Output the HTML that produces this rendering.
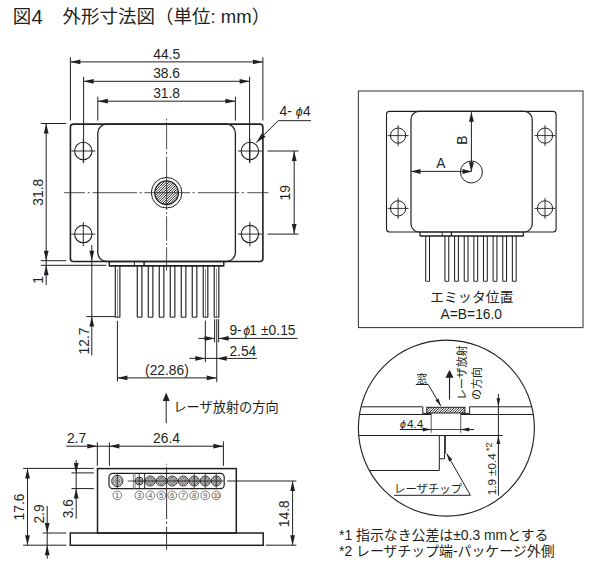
<!DOCTYPE html>
<html lang="ja"><head><meta charset="utf-8"><title>図4 外形寸法図</title>
<style>
html,body{margin:0;padding:0;background:#fff;}
body{width:603px;height:569px;overflow:hidden;}
svg{display:block;font-family:'Liberation Sans', 'Noto Sans CJK JP', sans-serif;}
</style></head>
<body>
<svg width="603" height="569" viewBox="0 0 603 569" style="font-family:'Liberation Sans', 'Noto Sans CJK JP', sans-serif">
<rect x="0" y="0" width="603" height="569" fill="#ffffff"/>
<text x="12.80" y="23.40" font-size="18.5" text-anchor="start" fill="#231f20" >図</text>
<text x="31.40" y="24.00" font-size="20.3" text-anchor="start" fill="#231f20" >4</text>
<text x="62.60" y="23.40" font-size="18.5" text-anchor="start" fill="#231f20" >外形寸法図（単位: mm）</text>
<rect x="70.40" y="124.10" width="192.50" height="137.40" rx="3" ry="3" fill="none" stroke="#231f20" stroke-width="1.6" />
<rect x="97.80" y="124.10" width="137.60" height="137.40" rx="9" ry="9" fill="none" stroke="#231f20" stroke-width="1.3" />
<circle cx="83.30" cy="151.00" r="8.70" fill="none" stroke="#231f20" stroke-width="1.1" />
<line x1="71.30" y1="151.00" x2="95.30" y2="151.00" stroke="#231f20" stroke-width="0.95" />
<line x1="83.30" y1="139.00" x2="83.30" y2="163.00" stroke="#231f20" stroke-width="0.95" />
<circle cx="83.30" cy="234.10" r="8.70" fill="none" stroke="#231f20" stroke-width="1.1" />
<line x1="71.30" y1="234.10" x2="95.30" y2="234.10" stroke="#231f20" stroke-width="0.95" />
<line x1="83.30" y1="222.10" x2="83.30" y2="246.10" stroke="#231f20" stroke-width="0.95" />
<circle cx="249.90" cy="151.00" r="8.70" fill="none" stroke="#231f20" stroke-width="1.1" />
<line x1="237.90" y1="151.00" x2="261.90" y2="151.00" stroke="#231f20" stroke-width="0.95" />
<line x1="249.90" y1="139.00" x2="249.90" y2="163.00" stroke="#231f20" stroke-width="0.95" />
<circle cx="249.90" cy="234.10" r="8.70" fill="none" stroke="#231f20" stroke-width="1.1" />
<line x1="237.90" y1="234.10" x2="261.90" y2="234.10" stroke="#231f20" stroke-width="0.95" />
<line x1="249.90" y1="222.10" x2="249.90" y2="246.10" stroke="#231f20" stroke-width="0.95" />
<circle cx="166.60" cy="192.70" r="15.30" fill="none" stroke="#231f20" stroke-width="1.0" />
<clipPath id="hc1"><circle cx="166.6" cy="192.7" r="11.8"/></clipPath><g clip-path="url(#hc1)">
<line x1="153.80" y1="182.20" x2="179.40" y2="156.60" stroke="#231f20" stroke-width="0.95" />
<line x1="153.80" y1="184.70" x2="179.40" y2="159.10" stroke="#231f20" stroke-width="0.95" />
<line x1="153.80" y1="187.20" x2="179.40" y2="161.60" stroke="#231f20" stroke-width="0.95" />
<line x1="153.80" y1="189.70" x2="179.40" y2="164.10" stroke="#231f20" stroke-width="0.95" />
<line x1="153.80" y1="192.20" x2="179.40" y2="166.60" stroke="#231f20" stroke-width="0.95" />
<line x1="153.80" y1="194.70" x2="179.40" y2="169.10" stroke="#231f20" stroke-width="0.95" />
<line x1="153.80" y1="197.20" x2="179.40" y2="171.60" stroke="#231f20" stroke-width="0.95" />
<line x1="153.80" y1="199.70" x2="179.40" y2="174.10" stroke="#231f20" stroke-width="0.95" />
<line x1="153.80" y1="202.20" x2="179.40" y2="176.60" stroke="#231f20" stroke-width="0.95" />
<line x1="153.80" y1="204.70" x2="179.40" y2="179.10" stroke="#231f20" stroke-width="0.95" />
<line x1="153.80" y1="207.20" x2="179.40" y2="181.60" stroke="#231f20" stroke-width="0.95" />
<line x1="153.80" y1="209.70" x2="179.40" y2="184.10" stroke="#231f20" stroke-width="0.95" />
<line x1="153.80" y1="212.20" x2="179.40" y2="186.60" stroke="#231f20" stroke-width="0.95" />
<line x1="153.80" y1="214.70" x2="179.40" y2="189.10" stroke="#231f20" stroke-width="0.95" />
<line x1="153.80" y1="217.20" x2="179.40" y2="191.60" stroke="#231f20" stroke-width="0.95" />
<line x1="153.80" y1="219.70" x2="179.40" y2="194.10" stroke="#231f20" stroke-width="0.95" />
<line x1="153.80" y1="222.20" x2="179.40" y2="196.60" stroke="#231f20" stroke-width="0.95" />
<line x1="153.80" y1="224.70" x2="179.40" y2="199.10" stroke="#231f20" stroke-width="0.95" />
<line x1="153.80" y1="227.20" x2="179.40" y2="201.60" stroke="#231f20" stroke-width="0.95" />
</g>
<circle cx="166.60" cy="192.70" r="11.80" fill="none" stroke="#231f20" stroke-width="1.3" />
<line x1="64.10" y1="192.70" x2="268.40" y2="192.70" stroke="#231f20" stroke-width="0.8" stroke-dasharray="20.8 2.9 1.9 2.9 44.5 2.5 2.2 2.6 45.6 2.5 2.2 3.3 41.2 2.6 2.2 3.3 21.1"/>
<line x1="166.60" y1="118.70" x2="166.60" y2="270.60" stroke="#231f20" stroke-width="0.8" stroke-dasharray="1.6 2.0 27.2 2.4 2.1 2.6 53.4 2.1 1.9 2.3 24.5 2.1 1.9 2.4 23.4"/>
<line x1="70.40" y1="57.40" x2="70.40" y2="120.50" stroke="#231f20" stroke-width="1.0" />
<line x1="262.90" y1="57.40" x2="262.90" y2="120.50" stroke="#231f20" stroke-width="1.0" />
<line x1="70.40" y1="61.90" x2="262.90" y2="61.90" stroke="#231f20" stroke-width="1.0" />
<polygon points="70.40,61.90 80.40,59.50 80.40,64.30" fill="#231f20"/>
<polygon points="262.90,61.90 252.90,64.30 252.90,59.50" fill="#231f20"/>
<text x="166.65" y="58.90" font-size="13.8" text-anchor="middle" fill="#231f20" >44.5</text>
<line x1="83.60" y1="76.80" x2="83.60" y2="163.00" stroke="#231f20" stroke-width="1.0" />
<line x1="249.60" y1="76.80" x2="249.60" y2="163.00" stroke="#231f20" stroke-width="1.0" />
<line x1="83.60" y1="81.30" x2="249.60" y2="81.30" stroke="#231f20" stroke-width="1.0" />
<polygon points="83.60,81.30 93.60,78.90 93.60,83.70" fill="#231f20"/>
<polygon points="249.60,81.30 239.60,83.70 239.60,78.90" fill="#231f20"/>
<text x="166.60" y="78.40" font-size="13.8" text-anchor="middle" fill="#231f20" >38.6</text>
<line x1="97.80" y1="96.70" x2="97.80" y2="120.50" stroke="#231f20" stroke-width="1.0" />
<line x1="235.40" y1="96.70" x2="235.40" y2="120.50" stroke="#231f20" stroke-width="1.0" />
<line x1="97.80" y1="101.20" x2="235.40" y2="101.20" stroke="#231f20" stroke-width="1.0" />
<polygon points="97.80,101.20 107.80,98.80 107.80,103.60" fill="#231f20"/>
<polygon points="235.40,101.20 225.40,103.60 225.40,98.80" fill="#231f20"/>
<text x="166.60" y="98.30" font-size="13.8" text-anchor="middle" fill="#231f20" >31.8</text>
<text x="279.60" y="116.30" font-size="13.8" text-anchor="start" fill="#231f20" >4- <tspan font-size='12.5' font-style='italic'>ϕ</tspan><tspan dx='0.4'>4</tspan></text>
<polyline points="311.00,120.70 278.20,120.70 256.30,142.50" fill="none" stroke="#231f20" stroke-width="1.0" />
<polygon points="256.30,142.50 261.91,133.25 265.58,136.94" fill="#231f20"/>
<line x1="267.50" y1="151.00" x2="298.50" y2="151.00" stroke="#231f20" stroke-width="1.0" />
<line x1="267.50" y1="234.10" x2="298.50" y2="234.10" stroke="#231f20" stroke-width="1.0" />
<line x1="294.20" y1="151.00" x2="294.20" y2="234.10" stroke="#231f20" stroke-width="1.0" />
<polygon points="294.20,151.00 296.60,161.00 291.80,161.00" fill="#231f20"/>
<polygon points="294.20,234.10 291.80,224.10 296.60,224.10" fill="#231f20"/>
<text x="290.40" y="192.70" font-size="13.8" text-anchor="middle" fill="#231f20" transform="rotate(-90 290.40 192.70)" >19</text>
<line x1="40.80" y1="123.50" x2="66.20" y2="123.50" stroke="#231f20" stroke-width="1.0" />
<line x1="40.80" y1="260.70" x2="66.20" y2="260.70" stroke="#231f20" stroke-width="1.0" />
<line x1="40.80" y1="265.30" x2="106.30" y2="265.30" stroke="#231f20" stroke-width="1.0" />
<line x1="46.20" y1="123.50" x2="46.20" y2="285.00" stroke="#231f20" stroke-width="1.0" />
<polygon points="46.20,123.50 48.60,133.50 43.80,133.50" fill="#231f20"/>
<polygon points="46.20,260.70 43.80,250.70 48.60,250.70" fill="#231f20"/>
<polygon points="46.20,265.30 48.60,275.30 43.80,275.30" fill="#231f20"/>
<text x="42.60" y="192.20" font-size="13.8" text-anchor="middle" fill="#231f20" transform="rotate(-90 42.60 192.20)" >31.8</text>
<text x="42.60" y="280.00" font-size="13.8" text-anchor="middle" fill="#231f20" transform="rotate(-90 42.60 280.00)" >1</text>
<line x1="91.80" y1="245.00" x2="91.80" y2="355.50" stroke="#231f20" stroke-width="1.0" />
<polygon points="91.80,260.70 89.40,250.70 94.20,250.70" fill="#231f20"/>
<polygon points="91.80,316.60 94.20,326.60 89.40,326.60" fill="#231f20"/>
<line x1="86.30" y1="316.60" x2="115.00" y2="316.60" stroke="#231f20" stroke-width="1.0" />
<text x="89.20" y="341.00" font-size="13.8" text-anchor="middle" fill="#231f20" transform="rotate(-90 89.20 341.00)" >12.7</text>
<line x1="109.30" y1="261.50" x2="109.30" y2="266.40" stroke="#231f20" stroke-width="1.4" />
<line x1="223.80" y1="261.50" x2="223.80" y2="266.40" stroke="#231f20" stroke-width="1.4" />
<line x1="109.30" y1="265.80" x2="223.80" y2="265.80" stroke="#231f20" stroke-width="1.7" />
<line x1="134.40" y1="261.50" x2="134.40" y2="265.80" stroke="#231f20" stroke-width="1.0" />
<line x1="144.10" y1="261.50" x2="144.10" y2="265.80" stroke="#231f20" stroke-width="1.5" />
<line x1="115.30" y1="265.80" x2="115.30" y2="317.20" stroke="#231f20" stroke-width="1.15" />
<line x1="119.90" y1="265.80" x2="119.90" y2="317.20" stroke="#231f20" stroke-width="1.15" />
<line x1="115.30" y1="317.20" x2="119.90" y2="317.20" stroke="#231f20" stroke-width="1.0" />
<line x1="117.60" y1="268.80" x2="117.60" y2="317.20" stroke="#5a5553" stroke-width="0.7" />
<line x1="137.29" y1="265.80" x2="137.29" y2="317.20" stroke="#231f20" stroke-width="1.15" />
<line x1="141.89" y1="265.80" x2="141.89" y2="317.20" stroke="#231f20" stroke-width="1.15" />
<line x1="137.29" y1="317.20" x2="141.89" y2="317.20" stroke="#231f20" stroke-width="1.0" />
<line x1="148.28" y1="265.80" x2="148.28" y2="317.20" stroke="#231f20" stroke-width="1.15" />
<line x1="152.88" y1="265.80" x2="152.88" y2="317.20" stroke="#231f20" stroke-width="1.15" />
<line x1="148.28" y1="317.20" x2="152.88" y2="317.20" stroke="#231f20" stroke-width="1.0" />
<line x1="159.27" y1="265.80" x2="159.27" y2="317.20" stroke="#231f20" stroke-width="1.15" />
<line x1="163.87" y1="265.80" x2="163.87" y2="317.20" stroke="#231f20" stroke-width="1.15" />
<line x1="159.27" y1="317.20" x2="163.87" y2="317.20" stroke="#231f20" stroke-width="1.0" />
<line x1="170.27" y1="265.80" x2="170.27" y2="317.20" stroke="#231f20" stroke-width="1.15" />
<line x1="174.87" y1="265.80" x2="174.87" y2="317.20" stroke="#231f20" stroke-width="1.15" />
<line x1="170.27" y1="317.20" x2="174.87" y2="317.20" stroke="#231f20" stroke-width="1.0" />
<line x1="181.26" y1="265.80" x2="181.26" y2="317.20" stroke="#231f20" stroke-width="1.15" />
<line x1="185.86" y1="265.80" x2="185.86" y2="317.20" stroke="#231f20" stroke-width="1.15" />
<line x1="181.26" y1="317.20" x2="185.86" y2="317.20" stroke="#231f20" stroke-width="1.0" />
<line x1="192.25" y1="265.80" x2="192.25" y2="317.20" stroke="#231f20" stroke-width="1.15" />
<line x1="196.85" y1="265.80" x2="196.85" y2="317.20" stroke="#231f20" stroke-width="1.15" />
<line x1="192.25" y1="317.20" x2="196.85" y2="317.20" stroke="#231f20" stroke-width="1.0" />
<line x1="203.24" y1="265.80" x2="203.24" y2="317.20" stroke="#231f20" stroke-width="1.15" />
<line x1="207.84" y1="265.80" x2="207.84" y2="317.20" stroke="#231f20" stroke-width="1.15" />
<line x1="203.24" y1="317.20" x2="207.84" y2="317.20" stroke="#231f20" stroke-width="1.0" />
<line x1="205.54" y1="268.80" x2="205.54" y2="317.20" stroke="#5a5553" stroke-width="0.7" />
<line x1="214.24" y1="265.80" x2="214.24" y2="317.20" stroke="#231f20" stroke-width="1.15" />
<line x1="218.84" y1="265.80" x2="218.84" y2="317.20" stroke="#231f20" stroke-width="1.15" />
<line x1="214.24" y1="317.20" x2="218.84" y2="317.20" stroke="#231f20" stroke-width="1.0" />
<line x1="216.54" y1="268.80" x2="216.54" y2="317.20" stroke="#5a5553" stroke-width="0.7" />
<line x1="117.40" y1="321.00" x2="117.40" y2="381.50" stroke="#231f20" stroke-width="1.0" />
<line x1="216.74" y1="319.20" x2="216.74" y2="382.20" stroke="#231f20" stroke-width="1.0" />
<line x1="117.40" y1="377.90" x2="216.74" y2="377.90" stroke="#231f20" stroke-width="1.0" />
<polygon points="117.40,377.90 127.40,375.50 127.40,380.30" fill="#231f20"/>
<polygon points="216.74,377.90 206.74,380.30 206.74,375.50" fill="#231f20"/>
<text x="166.90" y="374.90" font-size="13.8" text-anchor="middle" fill="#231f20" >(22.86)</text>
<line x1="205.34" y1="320.60" x2="205.34" y2="362.20" stroke="#231f20" stroke-width="1.0" />
<line x1="189.40" y1="358.40" x2="256.90" y2="358.40" stroke="#231f20" stroke-width="1.0" />
<polygon points="205.34,358.40 195.34,360.80 195.34,356.00" fill="#231f20"/>
<polygon points="216.74,358.40 226.74,356.00 226.74,360.80" fill="#231f20"/>
<text x="229.40" y="355.50" font-size="13.8" text-anchor="start" fill="#231f20" >2.54</text>
<line x1="214.64" y1="319.20" x2="214.64" y2="342.40" stroke="#231f20" stroke-width="1.0" />
<line x1="218.64" y1="319.20" x2="218.64" y2="342.40" stroke="#231f20" stroke-width="1.0" />
<line x1="198.40" y1="338.40" x2="214.64" y2="338.40" stroke="#231f20" stroke-width="1.0" />
<polygon points="214.64,338.40 204.64,340.80 204.64,336.00" fill="#231f20"/>
<line x1="218.64" y1="338.40" x2="297.60" y2="338.40" stroke="#231f20" stroke-width="1.0" />
<polygon points="218.64,338.40 228.64,336.00 228.64,340.80" fill="#231f20"/>
<text x="229.40" y="334.50" font-size="13.8" text-anchor="start" fill="#231f20" >9-<tspan font-size='12.5' font-style='italic' dx='1.6'>ϕ</tspan><tspan dx='-0.9'>1</tspan><tspan dx='0.2'> ±0.15</tspan></text>
<line x1="166.20" y1="397.00" x2="166.20" y2="423.20" stroke="#231f20" stroke-width="1.0" />
<polygon points="166.20,392.50 169.70,401.00 162.70,401.00" fill="#231f20"/>
<text x="173.40" y="412.00" font-size="13.2" text-anchor="start" fill="#231f20" >レーザ放射の方向</text>
<rect x="97.50" y="468.60" width="138.80" height="64.40" rx="0" ry="0" fill="none" stroke="#231f20" stroke-width="1.5" />
<rect x="70.30" y="533.00" width="192.90" height="12.30" rx="0" ry="0" fill="none" stroke="#231f20" stroke-width="1.5" />
<rect x="109.00" y="473.30" width="115.20" height="15.30" rx="3.8" ry="3.8" fill="none" stroke="#231f20" stroke-width="1.2" />
<line x1="133.40" y1="473.30" x2="133.40" y2="488.60" stroke="#6b6562" stroke-width="0.8" />
<line x1="135.10" y1="473.30" x2="135.10" y2="488.60" stroke="#6b6562" stroke-width="0.8" />
<line x1="144.70" y1="473.30" x2="144.70" y2="488.60" stroke="#231f20" stroke-width="1.0" />
<line x1="127.60" y1="481.00" x2="224.20" y2="481.00" stroke="#231f20" stroke-width="0.8" />
<line x1="227.20" y1="481.00" x2="296.40" y2="481.00" stroke="#231f20" stroke-width="1.0" />
<line x1="117.30" y1="473.30" x2="117.30" y2="488.60" stroke="#231f20" stroke-width="0.8" />
<line x1="139.29" y1="473.30" x2="139.29" y2="488.60" stroke="#231f20" stroke-width="0.8" />
<line x1="194.25" y1="473.30" x2="194.25" y2="488.60" stroke="#231f20" stroke-width="0.8" />
<line x1="205.24" y1="473.30" x2="205.24" y2="488.60" stroke="#231f20" stroke-width="0.8" />
<line x1="216.24" y1="473.30" x2="216.24" y2="488.60" stroke="#231f20" stroke-width="0.8" />
<circle cx="117.30" cy="481.00" r="5.60" fill="none" stroke="#231f20" stroke-width="0.95" />
<circle cx="117.30" cy="481.00" r="4.10" fill="none" stroke="#231f20" stroke-width="0.65" />
<circle cx="117.30" cy="481.00" r="2.60" fill="none" stroke="#231f20" stroke-width="0.65" />
<circle cx="117.30" cy="481.00" r="1.20" fill="none" stroke="#231f20" stroke-width="0.65" />
<circle cx="139.29" cy="481.00" r="3.90" fill="none" stroke="#231f20" stroke-width="0.95" />
<circle cx="139.29" cy="481.00" r="2.50" fill="none" stroke="#231f20" stroke-width="0.65" />
<circle cx="139.29" cy="481.00" r="1.20" fill="none" stroke="#231f20" stroke-width="0.65" />
<circle cx="150.28" cy="481.00" r="5.00" fill="none" stroke="#231f20" stroke-width="0.95" />
<circle cx="150.28" cy="481.00" r="3.70" fill="none" stroke="#231f20" stroke-width="0.65" />
<circle cx="150.28" cy="481.00" r="2.40" fill="none" stroke="#231f20" stroke-width="0.65" />
<circle cx="150.28" cy="481.00" r="1.20" fill="none" stroke="#231f20" stroke-width="0.65" />
<circle cx="161.27" cy="481.00" r="5.00" fill="none" stroke="#231f20" stroke-width="0.95" />
<circle cx="161.27" cy="481.00" r="3.70" fill="none" stroke="#231f20" stroke-width="0.65" />
<circle cx="161.27" cy="481.00" r="2.40" fill="none" stroke="#231f20" stroke-width="0.65" />
<circle cx="161.27" cy="481.00" r="1.20" fill="none" stroke="#231f20" stroke-width="0.65" />
<circle cx="172.27" cy="481.00" r="5.00" fill="none" stroke="#231f20" stroke-width="0.95" />
<circle cx="172.27" cy="481.00" r="3.70" fill="none" stroke="#231f20" stroke-width="0.65" />
<circle cx="172.27" cy="481.00" r="2.40" fill="none" stroke="#231f20" stroke-width="0.65" />
<circle cx="172.27" cy="481.00" r="1.20" fill="none" stroke="#231f20" stroke-width="0.65" />
<circle cx="183.26" cy="481.00" r="5.00" fill="none" stroke="#231f20" stroke-width="0.95" />
<circle cx="183.26" cy="481.00" r="3.70" fill="none" stroke="#231f20" stroke-width="0.65" />
<circle cx="183.26" cy="481.00" r="2.40" fill="none" stroke="#231f20" stroke-width="0.65" />
<circle cx="183.26" cy="481.00" r="1.20" fill="none" stroke="#231f20" stroke-width="0.65" />
<circle cx="194.25" cy="481.00" r="5.00" fill="none" stroke="#231f20" stroke-width="0.95" />
<circle cx="194.25" cy="481.00" r="3.70" fill="none" stroke="#231f20" stroke-width="0.65" />
<circle cx="194.25" cy="481.00" r="2.40" fill="none" stroke="#231f20" stroke-width="0.65" />
<circle cx="194.25" cy="481.00" r="1.20" fill="none" stroke="#231f20" stroke-width="0.65" />
<circle cx="205.24" cy="481.00" r="5.00" fill="none" stroke="#231f20" stroke-width="0.95" />
<circle cx="205.24" cy="481.00" r="3.70" fill="none" stroke="#231f20" stroke-width="0.65" />
<circle cx="205.24" cy="481.00" r="2.40" fill="none" stroke="#231f20" stroke-width="0.65" />
<circle cx="205.24" cy="481.00" r="1.20" fill="none" stroke="#231f20" stroke-width="0.65" />
<circle cx="216.24" cy="481.00" r="5.00" fill="none" stroke="#231f20" stroke-width="0.95" />
<circle cx="216.24" cy="481.00" r="3.70" fill="none" stroke="#231f20" stroke-width="0.65" />
<circle cx="216.24" cy="481.00" r="2.40" fill="none" stroke="#231f20" stroke-width="0.65" />
<circle cx="216.24" cy="481.00" r="1.20" fill="none" stroke="#231f20" stroke-width="0.65" />
<circle cx="117.30" cy="495.40" r="4.35" fill="none" stroke="#5a5553" stroke-width="0.75" />
<text x="117.30" y="498.20" font-size="7.9" text-anchor="middle" fill="#5a5553" >1</text>
<circle cx="139.29" cy="495.40" r="4.35" fill="none" stroke="#5a5553" stroke-width="0.75" />
<text x="139.29" y="498.20" font-size="7.9" text-anchor="middle" fill="#5a5553" >3</text>
<circle cx="150.28" cy="495.40" r="4.35" fill="none" stroke="#5a5553" stroke-width="0.75" />
<text x="150.28" y="498.20" font-size="7.9" text-anchor="middle" fill="#5a5553" >4</text>
<circle cx="161.27" cy="495.40" r="4.35" fill="none" stroke="#5a5553" stroke-width="0.75" />
<text x="161.27" y="498.20" font-size="7.9" text-anchor="middle" fill="#5a5553" >5</text>
<circle cx="172.27" cy="495.40" r="4.35" fill="none" stroke="#5a5553" stroke-width="0.75" />
<text x="172.27" y="498.20" font-size="7.9" text-anchor="middle" fill="#5a5553" >6</text>
<circle cx="183.26" cy="495.40" r="4.35" fill="none" stroke="#5a5553" stroke-width="0.75" />
<text x="183.26" y="498.20" font-size="7.9" text-anchor="middle" fill="#5a5553" >7</text>
<circle cx="194.25" cy="495.40" r="4.35" fill="none" stroke="#5a5553" stroke-width="0.75" />
<text x="194.25" y="498.20" font-size="7.9" text-anchor="middle" fill="#5a5553" >8</text>
<circle cx="205.24" cy="495.40" r="4.35" fill="none" stroke="#5a5553" stroke-width="0.75" />
<text x="205.24" y="498.20" font-size="7.9" text-anchor="middle" fill="#5a5553" >9</text>
<circle cx="216.24" cy="495.40" r="4.35" fill="none" stroke="#5a5553" stroke-width="0.75" />
<text x="216.04" y="498.10" font-size="7.2" text-anchor="middle" fill="#5a5553" letter-spacing="-0.9" >10</text>
<line x1="166.60" y1="463.80" x2="166.60" y2="549.70" stroke="#231f20" stroke-width="0.9" stroke-dasharray="0.9 2.2 52.1 2.7 2.1 2.8 23.1"/>
<line x1="97.30" y1="442.30" x2="97.30" y2="465.80" stroke="#231f20" stroke-width="1.0" />
<line x1="109.40" y1="442.30" x2="109.40" y2="465.80" stroke="#231f20" stroke-width="1.0" />
<line x1="223.40" y1="441.30" x2="223.40" y2="465.80" stroke="#231f20" stroke-width="1.0" />
<line x1="66.30" y1="446.20" x2="223.40" y2="446.20" stroke="#231f20" stroke-width="1.0" />
<polygon points="97.30,446.20 87.30,448.60 87.30,443.80" fill="#231f20"/>
<polygon points="109.40,446.20 119.40,443.80 119.40,448.60" fill="#231f20"/>
<polygon points="223.40,446.20 213.40,448.60 213.40,443.80" fill="#231f20"/>
<text x="76.50" y="443.00" font-size="13.8" text-anchor="middle" fill="#231f20" >2.7</text>
<text x="166.50" y="443.00" font-size="13.8" text-anchor="middle" fill="#231f20" >26.4</text>
<line x1="23.10" y1="468.40" x2="93.80" y2="468.40" stroke="#231f20" stroke-width="1.0" />
<line x1="23.10" y1="545.20" x2="66.30" y2="545.20" stroke="#231f20" stroke-width="1.0" />
<line x1="27.50" y1="468.40" x2="27.50" y2="545.20" stroke="#231f20" stroke-width="1.0" />
<polygon points="27.50,468.40 29.90,478.40 25.10,478.40" fill="#231f20"/>
<polygon points="27.50,545.20 25.10,535.20 29.90,535.20" fill="#231f20"/>
<text x="23.90" y="507.00" font-size="13.8" text-anchor="middle" fill="#231f20" transform="rotate(-90 23.90 507.00)" >17.6</text>
<line x1="42.70" y1="533.00" x2="66.30" y2="533.00" stroke="#231f20" stroke-width="1.0" />
<line x1="47.20" y1="505.90" x2="47.20" y2="558.70" stroke="#231f20" stroke-width="1.0" />
<polygon points="47.20,533.00 44.80,523.00 49.60,523.00" fill="#231f20"/>
<polygon points="47.20,545.20 49.60,555.20 44.80,555.20" fill="#231f20"/>
<text x="43.90" y="514.00" font-size="13.8" text-anchor="middle" fill="#231f20" transform="rotate(-90 43.90 514.00)" >2.9</text>
<line x1="71.50" y1="472.90" x2="93.80" y2="472.90" stroke="#231f20" stroke-width="1.0" />
<line x1="71.50" y1="488.60" x2="93.80" y2="488.60" stroke="#231f20" stroke-width="1.0" />
<line x1="76.20" y1="460.00" x2="76.20" y2="518.70" stroke="#231f20" stroke-width="1.0" />
<polygon points="76.20,472.90 73.80,462.90 78.60,462.90" fill="#231f20"/>
<polygon points="76.20,488.60 78.60,498.60 73.80,498.60" fill="#231f20"/>
<text x="72.90" y="508.70" font-size="13.8" text-anchor="middle" fill="#231f20" transform="rotate(-90 72.90 508.70)" >3.6</text>
<line x1="265.70" y1="545.20" x2="296.40" y2="545.20" stroke="#231f20" stroke-width="1.0" />
<line x1="292.60" y1="481.00" x2="292.60" y2="545.20" stroke="#231f20" stroke-width="1.0" />
<polygon points="292.60,481.00 295.00,491.00 290.20,491.00" fill="#231f20"/>
<polygon points="292.60,545.20 290.20,535.20 295.00,535.20" fill="#231f20"/>
<text x="289.30" y="513.70" font-size="13.8" text-anchor="middle" fill="#231f20" transform="rotate(-90 289.30 513.70)" >14.8</text>
<rect x="358.40" y="91.00" width="224.60" height="236.60" rx="0" ry="0" fill="none" stroke="#3c3839" stroke-width="1.05" />
<rect x="386.50" y="111.40" width="169.60" height="120.60" rx="3" ry="3" fill="none" stroke="#231f20" stroke-width="1.1" />
<rect x="411.00" y="111.40" width="121.20" height="120.60" rx="8" ry="8" fill="none" stroke="#231f20" stroke-width="1.2" />
<circle cx="398.10" cy="135.60" r="7.60" fill="none" stroke="#231f20" stroke-width="1.0" />
<line x1="387.60" y1="135.60" x2="408.60" y2="135.60" stroke="#231f20" stroke-width="0.9" />
<line x1="398.10" y1="125.10" x2="398.10" y2="146.10" stroke="#231f20" stroke-width="0.9" />
<circle cx="398.10" cy="208.40" r="7.60" fill="none" stroke="#231f20" stroke-width="1.0" />
<line x1="387.60" y1="208.40" x2="408.60" y2="208.40" stroke="#231f20" stroke-width="0.9" />
<line x1="398.10" y1="197.90" x2="398.10" y2="218.90" stroke="#231f20" stroke-width="0.9" />
<circle cx="545.00" cy="135.60" r="7.60" fill="none" stroke="#231f20" stroke-width="1.0" />
<line x1="534.50" y1="135.60" x2="555.50" y2="135.60" stroke="#231f20" stroke-width="0.9" />
<line x1="545.00" y1="125.10" x2="545.00" y2="146.10" stroke="#231f20" stroke-width="0.9" />
<circle cx="545.00" cy="208.40" r="7.60" fill="none" stroke="#231f20" stroke-width="1.0" />
<line x1="534.50" y1="208.40" x2="555.50" y2="208.40" stroke="#231f20" stroke-width="0.9" />
<line x1="545.00" y1="197.90" x2="545.00" y2="218.90" stroke="#231f20" stroke-width="0.9" />
<circle cx="471.40" cy="172.00" r="11.00" fill="none" stroke="#231f20" stroke-width="1.0" />
<line x1="411.00" y1="171.40" x2="471.40" y2="171.40" stroke="#231f20" stroke-width="1.0" />
<polygon points="411.00,171.40 420.50,168.90 420.50,173.90" fill="#231f20"/>
<polygon points="472.00,171.40 462.50,173.90 462.50,168.90" fill="#231f20"/>
<line x1="471.40" y1="112.20" x2="471.40" y2="171.40" stroke="#231f20" stroke-width="1.0" />
<polygon points="471.40,112.20 473.90,121.70 468.90,121.70" fill="#231f20"/>
<polygon points="471.40,171.80 468.90,162.30 473.90,162.30" fill="#231f20"/>
<text x="440.80" y="167.60" font-size="13.8" text-anchor="middle" fill="#231f20" >A</text>
<text x="467.00" y="140.20" font-size="13.8" text-anchor="middle" fill="#231f20" transform="rotate(-90 467.00 140.20)" >B</text>
<line x1="420.00" y1="232.00" x2="420.00" y2="236.30" stroke="#231f20" stroke-width="1.2" />
<line x1="523.30" y1="232.00" x2="523.30" y2="236.30" stroke="#231f20" stroke-width="1.2" />
<line x1="420.00" y1="235.90" x2="523.30" y2="235.90" stroke="#231f20" stroke-width="1.5" />
<line x1="442.20" y1="232.00" x2="442.20" y2="235.90" stroke="#231f20" stroke-width="0.9" />
<line x1="451.40" y1="232.00" x2="451.40" y2="235.90" stroke="#231f20" stroke-width="1.3" />
<line x1="425.70" y1="235.90" x2="425.70" y2="281.30" stroke="#231f20" stroke-width="1.05" />
<line x1="429.50" y1="235.90" x2="429.50" y2="281.30" stroke="#231f20" stroke-width="1.05" />
<line x1="425.70" y1="281.30" x2="429.50" y2="281.30" stroke="#231f20" stroke-width="0.9" />
<line x1="444.96" y1="235.90" x2="444.96" y2="281.30" stroke="#231f20" stroke-width="1.05" />
<line x1="448.76" y1="235.90" x2="448.76" y2="281.30" stroke="#231f20" stroke-width="1.05" />
<line x1="444.96" y1="281.30" x2="448.76" y2="281.30" stroke="#231f20" stroke-width="0.9" />
<line x1="454.59" y1="235.90" x2="454.59" y2="281.30" stroke="#231f20" stroke-width="1.05" />
<line x1="458.39" y1="235.90" x2="458.39" y2="281.30" stroke="#231f20" stroke-width="1.05" />
<line x1="454.59" y1="281.30" x2="458.39" y2="281.30" stroke="#231f20" stroke-width="0.9" />
<line x1="464.22" y1="235.90" x2="464.22" y2="281.30" stroke="#231f20" stroke-width="1.05" />
<line x1="468.02" y1="235.90" x2="468.02" y2="281.30" stroke="#231f20" stroke-width="1.05" />
<line x1="464.22" y1="281.30" x2="468.02" y2="281.30" stroke="#231f20" stroke-width="0.9" />
<line x1="473.85" y1="235.90" x2="473.85" y2="281.30" stroke="#231f20" stroke-width="1.05" />
<line x1="477.65" y1="235.90" x2="477.65" y2="281.30" stroke="#231f20" stroke-width="1.05" />
<line x1="473.85" y1="281.30" x2="477.65" y2="281.30" stroke="#231f20" stroke-width="0.9" />
<line x1="483.48" y1="235.90" x2="483.48" y2="281.30" stroke="#231f20" stroke-width="1.05" />
<line x1="487.28" y1="235.90" x2="487.28" y2="281.30" stroke="#231f20" stroke-width="1.05" />
<line x1="483.48" y1="281.30" x2="487.28" y2="281.30" stroke="#231f20" stroke-width="0.9" />
<line x1="493.11" y1="235.90" x2="493.11" y2="281.30" stroke="#231f20" stroke-width="1.05" />
<line x1="496.91" y1="235.90" x2="496.91" y2="281.30" stroke="#231f20" stroke-width="1.05" />
<line x1="493.11" y1="281.30" x2="496.91" y2="281.30" stroke="#231f20" stroke-width="0.9" />
<line x1="502.74" y1="235.90" x2="502.74" y2="281.30" stroke="#231f20" stroke-width="1.05" />
<line x1="506.54" y1="235.90" x2="506.54" y2="281.30" stroke="#231f20" stroke-width="1.05" />
<line x1="502.74" y1="281.30" x2="506.54" y2="281.30" stroke="#231f20" stroke-width="0.9" />
<line x1="512.37" y1="235.90" x2="512.37" y2="281.30" stroke="#231f20" stroke-width="1.05" />
<line x1="516.17" y1="235.90" x2="516.17" y2="281.30" stroke="#231f20" stroke-width="1.05" />
<line x1="512.37" y1="281.30" x2="516.17" y2="281.30" stroke="#231f20" stroke-width="0.9" />
<text x="471.90" y="302.30" font-size="13.7" text-anchor="middle" fill="#231f20" letter-spacing="0.2" >エミッタ位置</text>
<text x="471.30" y="318.60" font-size="13.8" text-anchor="middle" fill="#231f20" >A=B=16.0</text>
<clipPath id="cc"><circle cx="446.4" cy="428.1" r="88.0"/></clipPath>
<g clip-path="url(#cc)">
<polyline points="350.00,406.80 422.80,406.80 422.80,413.40 431.20,413.40" fill="none" stroke="#231f20" stroke-width="1.0" />
<polyline points="540.00,406.80 469.60,406.80 469.60,413.40 460.70,413.40" fill="none" stroke="#231f20" stroke-width="1.0" />
<line x1="350.00" y1="414.50" x2="431.20" y2="414.50" stroke="#231f20" stroke-width="1.0" />
<line x1="460.70" y1="414.50" x2="540.00" y2="414.50" stroke="#231f20" stroke-width="1.0" />
<line x1="431.20" y1="413.40" x2="431.20" y2="432.80" stroke="#4a4442" stroke-width="0.9" />
<line x1="460.70" y1="413.40" x2="460.70" y2="432.80" stroke="#4a4442" stroke-width="0.9" />
<clipPath id="hc2"><rect x="426.8" y="407.3" width="38.099999999999966" height="5.699999999999989"/></clipPath><g clip-path="url(#hc2)">
<line x1="418.00" y1="414.00" x2="425.70" y2="406.30" stroke="#231f20" stroke-width="0.95" />
<line x1="420.50" y1="414.00" x2="428.20" y2="406.30" stroke="#231f20" stroke-width="0.95" />
<line x1="423.00" y1="414.00" x2="430.70" y2="406.30" stroke="#231f20" stroke-width="0.95" />
<line x1="425.50" y1="414.00" x2="433.20" y2="406.30" stroke="#231f20" stroke-width="0.95" />
<line x1="428.00" y1="414.00" x2="435.70" y2="406.30" stroke="#231f20" stroke-width="0.95" />
<line x1="430.50" y1="414.00" x2="438.20" y2="406.30" stroke="#231f20" stroke-width="0.95" />
<line x1="433.00" y1="414.00" x2="440.70" y2="406.30" stroke="#231f20" stroke-width="0.95" />
<line x1="435.50" y1="414.00" x2="443.20" y2="406.30" stroke="#231f20" stroke-width="0.95" />
<line x1="438.00" y1="414.00" x2="445.70" y2="406.30" stroke="#231f20" stroke-width="0.95" />
<line x1="440.50" y1="414.00" x2="448.20" y2="406.30" stroke="#231f20" stroke-width="0.95" />
<line x1="443.00" y1="414.00" x2="450.70" y2="406.30" stroke="#231f20" stroke-width="0.95" />
<line x1="445.50" y1="414.00" x2="453.20" y2="406.30" stroke="#231f20" stroke-width="0.95" />
<line x1="448.00" y1="414.00" x2="455.70" y2="406.30" stroke="#231f20" stroke-width="0.95" />
<line x1="450.50" y1="414.00" x2="458.20" y2="406.30" stroke="#231f20" stroke-width="0.95" />
<line x1="453.00" y1="414.00" x2="460.70" y2="406.30" stroke="#231f20" stroke-width="0.95" />
<line x1="455.50" y1="414.00" x2="463.20" y2="406.30" stroke="#231f20" stroke-width="0.95" />
<line x1="458.00" y1="414.00" x2="465.70" y2="406.30" stroke="#231f20" stroke-width="0.95" />
<line x1="460.50" y1="414.00" x2="468.20" y2="406.30" stroke="#231f20" stroke-width="0.95" />
<line x1="463.00" y1="414.00" x2="470.70" y2="406.30" stroke="#231f20" stroke-width="0.95" />
<line x1="465.50" y1="414.00" x2="473.20" y2="406.30" stroke="#231f20" stroke-width="0.95" />
</g>
<rect x="426.80" y="407.30" width="38.10" height="5.70" rx="0" ry="0" fill="none" stroke="#231f20" stroke-width="1.0" />
<line x1="350.00" y1="435.50" x2="502.60" y2="435.50" stroke="#231f20" stroke-width="1.0" />
<polyline points="439.30,435.50 439.30,470.50 350.00,470.50" fill="none" stroke="#231f20" stroke-width="1.0" />
<polyline points="439.30,458.80 444.50,458.80 444.50,452.80" fill="none" stroke="#231f20" stroke-width="1.0" />
<line x1="445.00" y1="435.50" x2="445.00" y2="453.30" stroke="#231f20" stroke-width="1.7" />
</g>
<circle cx="446.40" cy="428.10" r="88.00" fill="none" stroke="#231f20" stroke-width="1.1" />
<line x1="399.80" y1="429.50" x2="431.20" y2="429.50" stroke="#231f20" stroke-width="1.0" />
<polygon points="431.20,429.50 422.70,431.40 422.70,427.60" fill="#231f20"/>
<line x1="431.20" y1="429.50" x2="460.70" y2="429.50" stroke="#231f20" stroke-width="0.8" />
<line x1="460.70" y1="429.50" x2="474.00" y2="429.50" stroke="#231f20" stroke-width="1.0" />
<polygon points="460.70,429.50 469.20,427.60 469.20,431.40" fill="#231f20"/>
<text x="400.00" y="427.50" font-size="11.8" text-anchor="start" fill="#231f20" ><tspan font-size='10.6' font-style='italic'>ϕ</tspan><tspan dx='1.0'>4.4</tspan></text>
<text x="421.90" y="382.60" font-size="10.8" text-anchor="middle" fill="#231f20" >窓</text>
<polyline points="415.80,384.50 428.20,384.50 440.80,405.90" fill="none" stroke="#231f20" stroke-width="1.0" />
<polygon points="440.80,405.90 435.44,400.35 438.55,398.52" fill="#231f20"/>
<line x1="449.50" y1="375.00" x2="449.50" y2="399.70" stroke="#231f20" stroke-width="1.1" />
<polygon points="449.50,369.70 453.50,377.70 445.50,377.70" fill="#231f20"/>
<text x="466.30" y="400.10" font-size="11.0" text-anchor="start" fill="#231f20" transform="rotate(-90 466.30 400.10)" >レーザ放射</text>
<text x="480.70" y="400.00" font-size="11.0" text-anchor="start" fill="#231f20" transform="rotate(-90 480.70 400.00)" >の方向</text>
<line x1="498.40" y1="394.00" x2="498.40" y2="495.60" stroke="#231f20" stroke-width="1.0" />
<polygon points="498.40,406.80 496.50,398.30 500.30,398.30" fill="#231f20"/>
<polygon points="498.40,435.50 500.30,444.00 496.50,444.00" fill="#231f20"/>
<text x="495.60" y="495.30" font-size="11.7" text-anchor="start" fill="#231f20" transform="rotate(-90 495.60 495.30)" >1.9 ±0.4</text>
<text x="491.80" y="450.90" font-size="9.0" text-anchor="start" fill="#231f20" transform="rotate(-90 491.80 450.90)" >*2</text>
<text x="394.00" y="493.00" font-size="11.4" text-anchor="start" fill="#231f20" >レーザチップ</text>
<polyline points="394.10,495.30 470.40,495.30 446.70,453.60" fill="none" stroke="#231f20" stroke-width="1.0" />
<polygon points="446.70,453.60 452.30,459.62 449.00,461.49" fill="#231f20"/>
<text x="339.00" y="539.70" font-size="13.9" text-anchor="start" fill="#231f20" >*1 指示なき公差は±0.3 mmとする</text>
<text x="339.00" y="555.90" font-size="13.9" text-anchor="start" fill="#231f20" >*2 レーザチップ端-パッケージ外側</text>
</svg>
</body></html>
